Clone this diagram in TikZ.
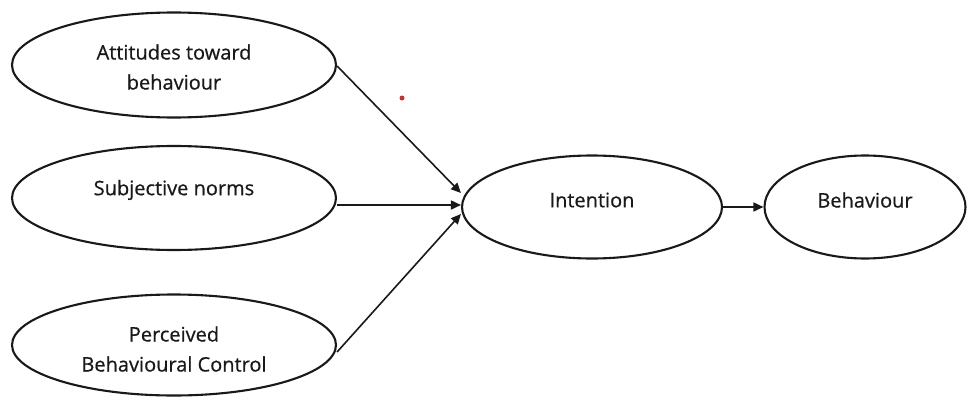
\documentclass[tikz,border=0pt]{standalone}
\usepackage{fontspec}
\setmainfont{Open Sans}[FakeBold=0.6]
\usetikzlibrary{shapes.geometric,arrows.meta}
\begin{document}
\begin{tikzpicture}[x=1pt,y=-1pt,
  construct/.style={ellipse,draw=black!90,line width=2.1pt,inner sep=0pt},
  caption/.style={font=\fontsize{20}{30}\selectfont,text=black!90,align=center},
  link/.style={draw=black!90,line width=1.6pt,-{Triangle[length=10pt,width=9pt]}}]
  \useasboundingbox (0,0) rectangle (971,396);
  % predictor constructs
  \node[construct,minimum width=324pt,minimum height=105pt] (att) at (174,65) {};
  \node[caption] (attT) at (174,67) {Attitudes toward\\behaviour};
  \node[construct,minimum width=324pt,minimum height=104pt] (sn) at (174,198) {};
  \node[caption] (snT) at (174,190) {Subjective norms};
  \node[construct,minimum width=324pt,minimum height=101pt] (pbc) at (174,345) {};
  \node[caption] (pbcT) at (174,349) {Perceived\\Behavioural Control};
  % intention and behaviour
  \node[construct,minimum width=260pt,minimum height=103pt] (int) at (592,207) {};
  \node[caption] (intT) at (592,200) {Intention};
  \node[construct,minimum width=201pt,minimum height=103pt] (beh) at (865,207) {};
  \node[caption] (behT) at (865,200) {Behaviour};
  % paths
  \path[link] ([yshift=-1pt]att.east) -- ([yshift=14pt]int.west);
  \path[link] ([yshift=-7pt]sn.east) -- ([yshift=2pt]int.west);
  \path[link] ([yshift=-7pt]pbc.east) -- ([yshift=-7pt]int.west);
  \path[link] (int.east) -- (beh.west);
  % stray mark
  \fill[red!70!black!80] (402,98) circle (2.5pt);
\end{tikzpicture}
\end{document}
